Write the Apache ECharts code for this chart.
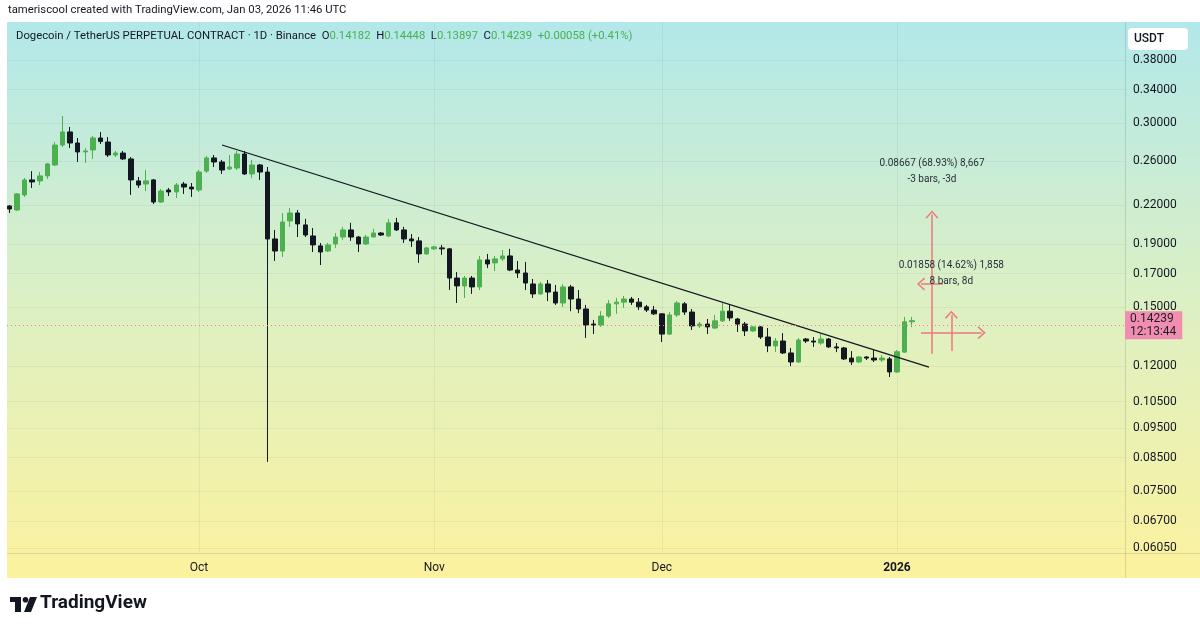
<!DOCTYPE html>
<html>
<head>
<meta charset="utf-8">
<title>DOGEUSDT.P 1D</title>
<script src="https://cdn.jsdelivr.net/npm/echarts@6.0.0/dist/echarts.min.js"></script>
<style>
  html, body { margin: 0; padding: 0; background: #fff; }
  #chart { width: 1200px; height: 631px; }
</style>
</head>
<body>
<div id="chart"></div>
<script>
// 日K 数据: 2025-09-06 ~ 2026-01-03
const firstDay = [2025, 8, 6]
const opens = [
  0.2193, 0.2160, 0.2286, 0.2419, 0.2410, 0.2456, 0.2559, 0.2759, 0.2898, 0.2780,
  0.2688, 0.2708, 0.2833, 0.2790, 0.2657, 0.2677, 0.2618, 0.2410, 0.2382, 0.2419,
  0.2226, 0.2329, 0.2312, 0.2382, 0.2355,
  0.2329, 0.2501, 0.2628, 0.2588, 0.2521, 0.2530, 0.2667, 0.2474, 0.2559, 0.2492,
  0.1937, 0.1851, 0.2073, 0.2136, 0.2042, 0.1959, 0.1887, 0.1851, 0.1901, 0.1951,
  0.2004, 0.1951, 0.1901, 0.1951, 0.1981, 0.1959, 0.2058, 0.2004, 0.1937, 0.1923, 0.1831,
  0.1866, 0.1873, 0.1866, 0.1672, 0.1623, 0.1672, 0.1617, 0.1790, 0.1770, 0.1797,
  0.1817, 0.1723, 0.1704, 0.1635, 0.1575, 0.1635, 0.1586, 0.1522, 0.1617, 0.1545,
  0.1488, 0.1406, 0.1401, 0.1449, 0.1517, 0.1527, 0.1545, 0.1527, 0.1500, 0.1482,
  0.1461, 0.1354, 0.1455, 0.1517, 0.1471, 0.1396, 0.1406, 0.1385, 0.1423, 0.1476,
  0.1433, 0.1406, 0.1370, 0.1391, 0.1339, 0.1295, 0.1319, 0.1261, 0.1219, 0.1329,
  0.1319, 0.1309, 0.1329, 0.1290, 0.1285, 0.1237, 0.1219, 0.1242, 0.1237, 0.1228, 0.1233,
  0.1174, 0.1265, 0.14182
]
const closes = [
  0.2168, 0.2295, 0.2419, 0.2401, 0.2456, 0.2569, 0.2759, 0.2898, 0.2780, 0.2688,
  0.2698, 0.2833, 0.2796, 0.2657, 0.2677, 0.2618, 0.2419, 0.2373, 0.2410, 0.2226,
  0.2320, 0.2312, 0.2373, 0.2355, 0.2338,
  0.2492, 0.2628, 0.2588, 0.2511, 0.2540, 0.2667, 0.2474, 0.2559, 0.2492, 0.1937,
  0.1851, 0.2065, 0.2136, 0.2050, 0.1966, 0.1894, 0.1844, 0.1894, 0.1951, 0.2004,
  0.1951, 0.1901, 0.1951, 0.1981, 0.1966, 0.2058, 0.2004, 0.1937, 0.1923, 0.1831, 0.1873,
  0.1880, 0.1866, 0.1672, 0.1623, 0.1672, 0.1617, 0.1790, 0.1763, 0.1797, 0.1817,
  0.1723, 0.1704, 0.1641, 0.1575, 0.1635, 0.1586, 0.1522, 0.1617, 0.1545, 0.1488,
  0.1401, 0.1401, 0.1449, 0.1517, 0.1527, 0.1545, 0.1527, 0.1500, 0.1482, 0.1461,
  0.1354, 0.1455, 0.1522, 0.1471, 0.1396, 0.1406, 0.1391, 0.1423, 0.1476, 0.1439,
  0.1406, 0.1370, 0.1391, 0.1339, 0.1295, 0.1319, 0.1261, 0.1219, 0.1324, 0.1319,
  0.1314, 0.1329, 0.1290, 0.1285, 0.1233, 0.1219, 0.1242, 0.1237, 0.1228, 0.1237, 0.1174,
  0.1267, 0.14181, 0.14239
]
const lows = [
  0.2136, 0.2152, 0.2269, 0.2347, 0.2373, 0.2428, 0.2549, 0.2738, 0.2728, 0.2588,
  0.2579, 0.2618, 0.2769, 0.2637, 0.2637, 0.2608, 0.2286, 0.2347, 0.2320, 0.2209,
  0.2218, 0.2277, 0.2260, 0.2295, 0.2269,
  0.2312, 0.2483, 0.2540, 0.2474, 0.2511, 0.2511, 0.2465, 0.2437, 0.2419, 0.0837,
  0.1783, 0.1810, 0.2027, 0.1951, 0.1951, 0.1844, 0.1756, 0.1844, 0.1873, 0.1930,
  0.1923, 0.1844, 0.1894, 0.1951, 0.1959, 0.1951, 0.1996, 0.1908, 0.1880, 0.1770, 0.1824,
  0.1858, 0.1824, 0.1598, 0.1522, 0.1551, 0.1575, 0.1598, 0.1736, 0.1716, 0.1783,
  0.1716, 0.1672, 0.1598, 0.1551, 0.1569, 0.1533, 0.1511, 0.1500, 0.1476, 0.1465,
  0.1334, 0.1354, 0.1391, 0.1439, 0.1461, 0.1494, 0.1511, 0.1482, 0.1471, 0.1455,
  0.1314, 0.1349, 0.1444, 0.1455, 0.1375, 0.1385, 0.1354, 0.1380, 0.1417, 0.1423,
  0.1365, 0.1344, 0.1365, 0.1329, 0.1265, 0.1265, 0.1256, 0.1200, 0.1214, 0.1309,
  0.1290, 0.1300, 0.1285, 0.1265, 0.1228, 0.1205, 0.1214, 0.1228, 0.1219, 0.1219, 0.1152,
  0.1170, 0.1261, 0.13897
]
const highs = [
  0.2201, 0.2303, 0.2437, 0.2501, 0.2492, 0.2578, 0.2790, 0.3077, 0.2953, 0.2833,
  0.2728, 0.2854, 0.2898, 0.2843, 0.2698, 0.2698, 0.2637, 0.2446, 0.2511, 0.2428,
  0.2338, 0.2347, 0.2391, 0.2401, 0.2391,
  0.2511, 0.2647, 0.2657, 0.2608, 0.2657, 0.2698, 0.2698, 0.2608, 0.2569, 0.2540,
  0.2004, 0.2136, 0.2176, 0.2160, 0.2089, 0.2019, 0.1908, 0.1908, 0.1981, 0.2027,
  0.2058, 0.1959, 0.1966, 0.2012, 0.1988, 0.2089, 0.2097, 0.2027, 0.1973, 0.1951, 0.1880,
  0.1887, 0.1894, 0.1873, 0.1710, 0.1685, 0.1685, 0.1817, 0.1831, 0.1817, 0.1858,
  0.1866, 0.1783, 0.1777, 0.1666, 0.1648, 0.1660, 0.1629, 0.1635, 0.1629, 0.1598,
  0.1511, 0.1428, 0.1476, 0.1539, 0.1551, 0.1563, 0.1557, 0.1551, 0.1511, 0.1505,
  0.1465, 0.1471, 0.1533, 0.1527, 0.1488, 0.1417, 0.1433, 0.1455, 0.1522, 0.1511,
  0.1439, 0.1417, 0.1396, 0.1396, 0.1385, 0.1334, 0.1359, 0.1285, 0.1334, 0.1334,
  0.1339, 0.1354, 0.1334, 0.1309, 0.1290, 0.1270, 0.1246, 0.1246, 0.1275, 0.1251, 0.1242,
  0.1275, 0.1444, 0.14448
]

// 价格刻度 / 月份刻度
const priceTicks = [0.38, 0.34, 0.30, 0.26, 0.22, 0.19, 0.17, 0.15, 0.12, 0.105, 0.095, 0.085, 0.075, 0.067, 0.0605]
const monthTicks = ['2025-10-01', '2025-11-01', '2025-12-01', '2026-01-01']
const monthNames = ['2026', 'Feb', 'Mar', 'Apr', 'May', 'Jun', 'Jul', 'Aug', 'Sep', 'Oct', 'Nov', 'Dec']

// 画线: 趋势线 + 两个测量工具
const trendStart = ['2025-10-04 00:45', 0.2759]
const trendEnd = ['2026-01-05 05:15', 0.1196]
const rangeA = { time: ['2026-01-07 01:30', '2026-01-04 04:00'], price: [0.12573, 0.2124], bars: -3 }
const rangeB = { time: ['2026-01-04 04:00', '2026-01-12 04:00'], price: [0.12709, 0.14567], bars: 8 }
const countdown = '12:13:44'

const ts = s => {
  const [d, h] = s.split(' ')
  const [y, m, dd] = d.split('-').map(Number)
  const [hh, mm] = (h || '0:0').split(':').map(Number)
  return new Date(y, m - 1, dd, hh, mm).getTime()
}

const candles = opens.map((o, i) => [
  new Date(firstDay[0], firstDay[1], firstDay[2] + i).getTime(),
  o, closes[i], lows[i], highs[i]
])

const last = opens.length - 1
const lastClose = closes[last]
const change = lastClose - closes[last - 1]

const UP = '#4caf50'
const DOWN = '#131722'
const DRAW = '#f0747d'
const FONT = 'Roboto, "Noto Sans", sans-serif'
const HEAD = '11.3px ' + FONT

// 箭头 (开口 V 形)
const chevron = 'path://M0,9 L7,0 L14,9 L12.6,10 L7,2.6 L1.4,10 Z'

function rangeLines(r) {
  const t0 = ts(r.time[0]), t1 = ts(r.time[1])
  const mid = (t0 + t1) / 2
  const midP = Math.sqrt(r.price[0] * r.price[1])
  return [
    [{ coord: [mid, r.price[0]], symbol: 'none' },
     { coord: [mid, r.price[1]], symbol: chevron, symbolSize: [13, 8] }],
    [{ coord: [t0, midP], symbol: 'none' },
     { coord: [t1, midP], symbol: chevron, symbolSize: [13, 8] }]
  ]
}
function rangeLabel(r) {
  const t0 = ts(r.time[0]), t1 = ts(r.time[1])
  const diff = r.price[1] - r.price[0]
  const pct = (diff / r.price[0] * 100).toFixed(2)
  const ticks = Math.round(diff / 0.00001).toLocaleString('en-US')
  return {
    coord: [(t0 + t1) / 2, r.price[1]],
    value: `${diff.toFixed(5)} (${pct}%) ${ticks}\n${r.bars} bars, ${r.bars}d`
  }
}

const chart = echarts.init(document.getElementById('chart'), null, { renderer: 'canvas' })

const option = {
  animation: false,
  backgroundColor: '#ffffff',
  textStyle: { fontFamily: FONT },
  grid: { left: 7, right: 75, top: 22, bottom: 78, containLabel: false },
  graphic: [
    {
      type: 'rect', z: -10, silent: true,
      shape: { x: 7, y: 22, width: 1193, height: 556 },
      style: {
        fill: new echarts.graphic.LinearGradient(0, 0, 0, 1, [
          { offset: 0, color: '#b2e8ea' },
          { offset: 0.5, color: '#dcf0c4' },
          { offset: 1, color: '#fcf29e' }
        ])
      }
    },
    { type: 'line', silent: true, shape: { x1: 1125.5, y1: 22, x2: 1125.5, y2: 578 },
      style: { stroke: 'rgba(42,46,57,0.14)', lineWidth: 1 } },
    { type: 'line', silent: true, shape: { x1: 7, y1: 553.5, x2: 1200, y2: 553.5 },
      style: { stroke: 'rgba(42,46,57,0.14)', lineWidth: 1 } },
    {
      type: 'text', left: 8, top: 5,
      style: { text: 'tameriscool created with TradingView.com, Jan 03, 2026 11:46 UTC',
        fill: '#131722', font: HEAD }
    },
    {
      type: 'text', left: 16, top: 31,
      style: {
        text: '{t|Dogecoin / TetherUS PERPETUAL CONTRACT · 1D · Binance}  ' +
          `{k|O}{v|${opens[last].toFixed(5)}}  {k|H}{v|${highs[last].toFixed(5)}}  ` +
          `{k|L}{v|${lows[last].toFixed(5)}}  {k|C}{v|${lastClose.toFixed(5)}}  ` +
          `{v|+${change.toFixed(5)} (+${(change / closes[last - 1] * 100).toFixed(2)}%)}`,
        font: HEAD,
        rich: {
          t: { fill: '#131722', font: HEAD },
          k: { fill: '#131722', font: HEAD },
          v: { fill: UP, font: HEAD }
        }
      }
    },
    {
      type: 'rect', shape: { x: 1128, y: 28, width: 60, height: 22, r: 4 },
      style: { fill: '#ffffff' }
    },
    {
      type: 'text', left: 1134, top: 33,
      style: { text: 'USDT', fill: '#131722', font: '500 12px ' + FONT }
    },
    // TradingView logo
    {
      type: 'group', left: 10, top: 597,
      children: [
        { type: 'rect', shape: { x: 0, y: 0, width: 11, height: 5 }, style: { fill: '#131722' } },
        { type: 'rect', shape: { x: 5, y: 0, width: 6, height: 15 }, style: { fill: '#131722' } },
        { type: 'circle', shape: { cx: 15.5, cy: 2.8, r: 2.8 }, style: { fill: '#131722' } },
        { type: 'polygon', shape: { points: [[20, 0], [27, 0], [21, 15], [14, 15]] }, style: { fill: '#131722' } }
      ]
    },
    {
      type: 'text', left: 40, top: 594,
      style: { text: 'TradingView', fill: '#131722', font: 'bold 19px ' + FONT }
    }
  ],
  xAxis: {
    type: 'value',
    min: ts('2025-09-05 16:20'),
    max: ts('2026-01-31 01:30'),
    axisLine: { show: false },
    axisTick: { show: false, customValues: monthTicks.map(ts) },
    splitLine: { show: true, lineStyle: { color: 'rgba(42,46,57,0.06)' } },
    axisLabel: {
      customValues: monthTicks.map(ts),
      margin: 9,
      color: '#131722',
      fontSize: 12,
      formatter: v => {
        const m = new Date(v).getMonth()
        return m === 0 ? '{y|' + new Date(v).getFullYear() + '}' : monthNames[m]
      },
      rich: { y: { fontWeight: 'bold', fontSize: 12, color: '#131722' } }
    }
  },
  yAxis: {
    type: 'log',
    logBase: 10,
    position: 'right',
    min: 0.05938,
    max: 0.4384,
    axisLine: { show: false },
    axisTick: { show: false, customValues: priceTicks },
    splitLine: { show: true, lineStyle: { color: 'rgba(42,46,57,0.06)' } },
    axisLabel: {
      customValues: priceTicks,
      margin: 8,
      color: '#131722',
      fontSize: 12,
      formatter: v => Number(v).toFixed(5)
    }
  },
  series: [
    {
      type: 'candlestick',
      data: candles,
      barWidth: 5,
      itemStyle: {
        color: UP, color0: DOWN,
        borderColor: UP, borderColor0: DOWN, borderWidth: 1
      },
      markLine: {
        silent: true,
        symbol: ['none', 'none'],
        label: { show: false },
        data: [
          [
            { coord: [ts(trendStart[0]), trendStart[1]], lineStyle: { color: '#131722', width: 1.3, type: 'solid' } },
            { coord: [ts(trendEnd[0]), trendEnd[1]] }
          ],
          {
            yAxis: lastClose,
            lineStyle: { color: '#ef7c86', width: 1, type: [1, 3] },
            label: {
              show: true,
              position: 'end',
              distance: 0,
              formatter: lastClose.toFixed(5) + '\n' + countdown,
              backgroundColor: '#f28db2',
              color: '#1d1f26',
              fontSize: 12,
              lineHeight: 13,
              padding: [1, 6, 1, 5]
            }
          }
        ]
      }
    },
    {
      type: 'line',
      data: [],
      markLine: {
        silent: true,
        symbol: ['none', 'none'],
        label: { show: false },
        lineStyle: { color: DRAW, width: 1.5, type: 'solid' },
        itemStyle: { color: DRAW },
        data: [...rangeLines(rangeA), ...rangeLines(rangeB)]
      },
      markPoint: {
        silent: true,
        symbol: 'circle',
        symbolSize: 1,
        itemStyle: { color: 'rgba(0,0,0,0)' },
        label: {
          show: true,
          position: 'inside',
          color: '#2a2e39',
          fontSize: 10,
          lineHeight: 16,
          align: 'center',
          formatter: p => p.data.value
        },
        data: [
          Object.assign(rangeLabel(rangeA), { label: { offset: [0, -43] } }),
          Object.assign(rangeLabel(rangeB), { label: { offset: [0, -41] } })
        ]
      }
    }
  ]
}

chart.setOption(option)
</script>
</body>
</html>
